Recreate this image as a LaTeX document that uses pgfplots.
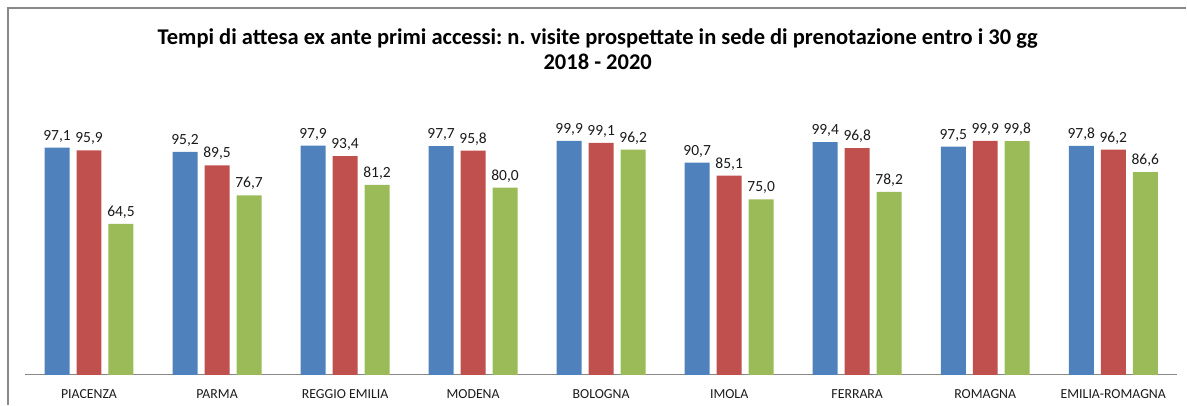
\documentclass[border=0pt]{standalone}
\usepackage{pgfplots}
\pgfplotsset{compat=1.18}
\usepackage{fontspec}
\setmainfont{Carlito}
\frenchspacing

\definecolor{xlblue}{HTML}{4F81BD}
\definecolor{xlred}{HTML}{C0504D}
\definecolor{xlgreen}{HTML}{9BBB59}
\definecolor{framegray}{HTML}{888888}
\definecolor{txtgray}{HTML}{1A1A1A}

\begin{document}
\begin{tikzpicture}
% picture area, 1pt = 1px of the reference
\path[draw=none] (0pt,0pt) rectangle (1187pt,405pt);
% chart frame (right and bottom sides fall outside the picture)
\draw[framegray,line width=1.2pt] (8pt,0pt) -- (8pt,397pt) -- (1187pt,397pt);

\node[font=\fontsize{22.5}{25.5}\selectfont\bfseries,align=center] at (598pt,356pt)
  {Tempi di attesa ex ante primi accessi: n. visite prospettate in sede di prenotazione entro i 30 gg\\2018 - 2020};

\begin{axis}[
  at={(25pt,30pt)}, anchor=south west,
  scale only axis,
  width=1153pt, height=281pt,
  xmin=-0.5, xmax=8.5,
  ymin=0, ymax=120,
  ybar=7pt, bar width=25pt,
  axis y line=none,
  axis x line*=bottom,
  x axis line style={framegray,line width=0.9pt},
  xtick={0,...,8},
  xticklabels={PIACENZA,PARMA,REGGIO EMILIA,MODENA,BOLOGNA,IMOLA,FERRARA,ROMAGNA,EMILIA-ROMAGNA},
  x tick style={draw=none},
  xticklabel style={font=\fontsize{13.8}{15}\selectfont,text=txtgray,yshift=-7pt},
  /pgf/number format/assume math mode=true,
  /pgf/number format/.cd, fixed, fixed zerofill, precision=1, use comma, 1000 sep={},
  /pgfplots/.cd,
  nodes near coords,
  every node near coord/.append style={font=\fontsize{15.5}{17}\selectfont,text=txtgray,yshift=2pt},
  clip=false,
]
\addplot[fill=xlblue,draw=none] coordinates {(0,97.1) (1,95.2) (2,97.9) (3,97.7) (4,99.9) (5,90.7) (6,99.4) (7,97.5) (8,97.8)};
\addplot[fill=xlred,draw=none] coordinates {(0,95.9) (1,89.5) (2,93.4) (3,95.8) (4,99.1) (5,85.1) (6,96.8) (7,99.9) (8,96.2)};
\addplot[fill=xlgreen,draw=none] coordinates {(0,64.5) (1,76.7) (2,81.2) (3,80.0) (4,96.2) (5,75.0) (6,78.2) (7,99.8) (8,86.6)};
\end{axis}
\end{tikzpicture}
\end{document}
